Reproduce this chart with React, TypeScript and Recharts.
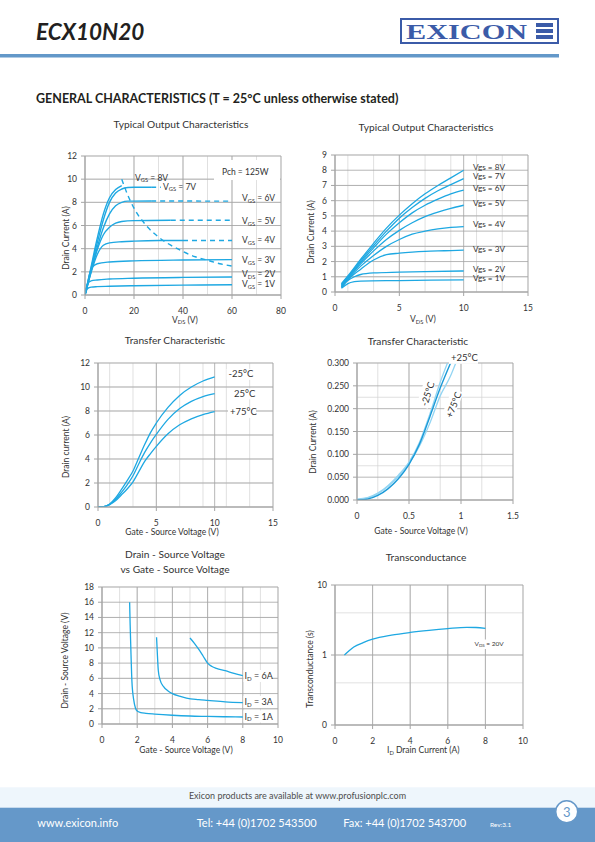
import React from "react";
import { LineChart, Line, XAxis, YAxis, CartesianGrid } from "recharts";

type Pt = [number, number];

const FONT = "Lato, 'Open Sans', sans-serif";
const BLUE = "#1ea8e2";
const LIGHT = "#93d5f3";
const TXT = "#333333";

// ---------- Chart 1 : Typical output characteristics (0-80 V) ----------
const c1XTicks = [0, 20, 40, 60, 80];
const c1YTicks = [0, 2, 4, 6, 8, 10, 12];
const c1XMinor = [0, 2.5, 5, 7.5, 10, 12.5, 15, 17.5, 20, 22.5, 25, 27.5, 30, 32.5, 35, 37.5, 40, 42.5, 45, 47.5, 50, 52.5, 55, 57.5, 60, 62.5, 65, 67.5, 70, 72.5, 75, 77.5, 80];
const c1YMinor = [0, 0.5, 1, 1.5, 2, 2.5, 3, 3.5, 4, 4.5, 5, 5.5, 6, 6.5, 7, 7.5, 8, 8.5, 9, 9.5, 10, 10.5, 11, 11.5, 12];
const out8: Pt[] = [[0, 0], [1, 0.95], [2.5, 2.45], [5, 4.9], [7.5, 7.0], [10, 8.4], [12.5, 9.1], [15, 9.45]];
const out7: Pt[] = [[0, 0], [1, 0.9], [2.5, 2.3], [5, 4.5], [7.5, 6.5], [10, 8.0], [12.5, 8.8], [15, 9.15], [17.5, 9.28], [20, 9.3], [27, 9.3]];
const out7d: Pt[] = [[27, 9.3], [31, 9.3]];
const out6: Pt[] = [[0, 0], [1, 0.85], [2.5, 2.1], [5, 4.1], [7.5, 5.8], [10, 7.0], [12.5, 7.7], [15, 8.0], [17.5, 8.1], [27, 8.12]];
const out6d: Pt[] = [[27, 8.12], [60, 8.1]];
const out5: Pt[] = [[0, 0], [1, 0.82], [2.5, 2.05], [5, 3.9], [7.5, 5.2], [10, 5.85], [12.5, 6.2], [15, 6.35], [20, 6.42], [35, 6.45]];
const out5d: Pt[] = [[35, 6.45], [60, 6.45]];
const out4: Pt[] = [[0, 0], [1, 0.8], [2.5, 1.95], [5, 3.5], [7.5, 4.3], [10, 4.5], [15, 4.6], [20, 4.65], [30, 4.7], [40, 4.7]];
const out4d: Pt[] = [[40, 4.7], [60, 4.7]];
const out3: Pt[] = [[0, 0], [1, 1.0], [2, 1.9], [3, 2.4], [5, 2.7], [10, 2.85], [20, 2.95], [40, 3.02], [60, 3.05]];
const out2: Pt[] = [[0, 0], [1, 0.95], [2.5, 1.22], [5, 1.3], [10, 1.38], [20, 1.45], [40, 1.52], [60, 1.55]];
const out1: Pt[] = [[0, 0], [1, 0.55], [2.5, 0.68], [5, 0.72], [10, 0.75], [20, 0.8], [40, 0.85], [60, 0.88]];
const pchLimit: Pt[] = [[15, 10], [17.5, 8.6], [20, 7.5], [25, 6], [30, 5], [35, 4.3], [40, 3.75], [45, 3.3], [50, 3], [55, 2.7], [60, 2.5]];

// ---------- Chart 2 : Typical output characteristics (0-10 V) ----------
const c2XTicks = [0, 5, 10, 15];
const c2YTicks = [0, 1, 2, 3, 4, 5, 6, 7, 8, 9];
const c2XMinor = [0, 1, 2, 3, 4, 5, 6, 7, 8, 9, 10, 11, 12, 13, 14, 15];
const vgs8: Pt[] = [[0.5, 0.55], [1, 1.05], [2, 2.15], [3, 3.2], [4, 4.2], [5, 5.05], [6, 5.8], [7, 6.45], [8, 7.0], [9, 7.5], [10, 8.0]];
const vgs7: Pt[] = [[0.5, 0.5], [1, 1.0], [2, 2.05], [3, 3.05], [4, 4.0], [5, 4.85], [6, 5.55], [7, 6.15], [8, 6.65], [9, 7.05], [10, 7.45]];
const vgs6: Pt[] = [[0.5, 0.45], [1, 0.95], [2, 1.95], [3, 2.9], [4, 3.8], [5, 4.55], [6, 5.2], [7, 5.7], [8, 6.1], [9, 6.45], [10, 6.7]];
const vgs5: Pt[] = [[0.5, 0.4], [1, 0.9], [2, 1.85], [3, 2.7], [4, 3.45], [5, 4.05], [6, 4.55], [7, 4.95], [8, 5.25], [9, 5.5], [10, 5.7]];
const vgs4: Pt[] = [[0.5, 0.35], [1, 0.85], [2, 1.7], [3, 2.4], [4, 3.0], [5, 3.45], [6, 3.8], [7, 4.0], [8, 4.15], [9, 4.25], [10, 4.3]];
const vgs3: Pt[] = [[0.5, 0.3], [1, 0.8], [2, 1.5], [3, 2.1], [4, 2.45], [5, 2.55], [6, 2.62], [7, 2.67], [8, 2.7], [9, 2.72], [10, 2.75]];
const vgs2: Pt[] = [[0.5, 0.3], [1, 0.75], [1.5, 1.0], [2, 1.15], [3, 1.25], [5, 1.3], [7, 1.34], [10, 1.38]];
const vgs1: Pt[] = [[0.5, 0.25], [1, 0.55], [1.5, 0.68], [2, 0.72], [5, 0.75], [10, 0.8]];

// ---------- Chart 3 : Transfer characteristic ----------
const c3XTicks = [0, 5, 10, 15];
const c3YTicks = [0, 2, 4, 6, 8, 10, 12];
const c3XMinor = [0, 1, 2, 3, 4, 5, 6, 7, 8, 9, 10, 11, 12, 13, 14, 15];
const trM25: Pt[] = [[0, 0], [0.5, 0.03], [1, 0.25], [1.5, 0.75], [2, 1.45], [2.5, 2.2], [3, 3.0], [3.5, 4.1], [4, 5.2], [4.5, 6.2], [5, 7.0], [6, 8.3], [7, 9.3], [8, 10.0], [9, 10.5], [10, 10.85]];
const trP25: Pt[] = [[0, 0], [0.5, 0.03], [1, 0.22], [1.5, 0.62], [2, 1.2], [2.5, 1.85], [3, 2.6], [3.5, 3.6], [4, 4.55], [4.5, 5.35], [5, 6.05], [6, 7.3], [7, 8.2], [8, 8.8], [9, 9.2], [10, 9.45]];
const trP75: Pt[] = [[0, 0], [0.5, 0.03], [1, 0.2], [1.5, 0.52], [2, 1.0], [2.5, 1.5], [3, 2.1], [3.5, 2.95], [4, 3.8], [4.5, 4.45], [5, 5.05], [6, 6.1], [7, 6.85], [8, 7.35], [9, 7.7], [10, 7.95]];

// ---------- Chart 4 : Transfer characteristic (low current) ----------
const c4XTicks = [0, 0.5, 1, 1.5];
const c4YTicks = [0, 0.05, 0.1, 0.15, 0.2, 0.25, 0.3];
const c4XMinor = [0, 0.1, 0.2, 0.3, 0.4, 0.5, 0.6, 0.7, 0.8, 0.9, 1, 1.1, 1.2, 1.3, 1.4, 1.5];
const c4YMinor = [0, 0.025, 0.05, 0.075, 0.1, 0.125, 0.15, 0.175, 0.2, 0.225, 0.25, 0.275, 0.3];
const lowP25: Pt[] = [[0, 0], [0.1, 0.002], [0.2, 0.01], [0.3, 0.025], [0.4, 0.047], [0.5, 0.078], [0.6, 0.122], [0.7, 0.182], [0.8, 0.245], [0.9, 0.3]];
const lowM25: Pt[] = [[0, 0.002], [0.1, 0.005], [0.2, 0.015], [0.3, 0.032], [0.4, 0.055], [0.5, 0.083], [0.6, 0.126], [0.7, 0.188], [0.8, 0.258], [0.87, 0.3]];
const lowP75: Pt[] = [[0, 0.001], [0.1, 0.004], [0.2, 0.014], [0.3, 0.03], [0.4, 0.052], [0.5, 0.08], [0.6, 0.118], [0.7, 0.168], [0.8, 0.228], [0.9, 0.272], [0.95, 0.3]];

// ---------- Chart 5 : VDS vs VGS ----------
const c5XTicks = [0, 2, 4, 6, 8, 10];
const c5YTicks = [0, 2, 4, 6, 8, 10, 12, 14, 16, 18];
const c5XMinor = [0, 0.5, 1, 1.5, 2, 2.5, 3, 3.5, 4, 4.5, 5, 5.5, 6, 6.5, 7, 7.5, 8, 8.5, 9, 9.5, 10];
const c5YMinor = [0, 1, 2, 3, 4, 5, 6, 7, 8, 9, 10, 11, 12, 13, 14, 15, 16, 17, 18];
const id1A: Pt[] = [[1.57, 16], [1.6, 13], [1.65, 9], [1.7, 5.6], [1.8, 3.2], [1.9, 2.1], [2.0, 1.7], [2.2, 1.5], [2.5, 1.4], [3, 1.3], [4, 1.15], [5, 1.05], [6, 1.0], [7, 0.95], [8, 0.92]];
const id3A: Pt[] = [[3.1, 11.4], [3.15, 9], [3.2, 7], [3.3, 5.8], [3.5, 4.9], [3.75, 4.35], [4, 4.0], [4.4, 3.65], [4.8, 3.4], [5.5, 3.2], [6, 3.1], [7, 2.9], [8, 2.8]];
const id6A: Pt[] = [[5, 11.3], [5.25, 10.6], [5.5, 9.8], [5.75, 8.9], [6, 8.0], [6.25, 7.55], [6.5, 7.3], [7, 7.0], [7.5, 6.65], [8, 6.35]];

// ---------- Chart 6 : Transconductance ----------
const c6XTicks = [0, 2, 4, 6, 8, 10];
const c6YTicks = [0.1, 1, 10];
const c6YMinor = [0.1, 0.2, 0.3, 0.4, 0.5, 0.6, 0.7, 0.8, 0.9, 1, 2, 3, 4, 5, 6, 7, 8, 9, 10];
const gfs: Pt[] = [[0.5, 1.0], [0.75, 1.15], [1, 1.3], [1.5, 1.5], [2, 1.68], [3, 1.92], [4, 2.1], [5, 2.25], [6, 2.38], [7, 2.48], [7.5, 2.47], [8, 2.4]];

const toData = (p: Pt[]) => p.map(([x, y]) => ({ x, y }));

interface Series {
  pts: Pt[];
  color?: string;
  width?: number;
  dash?: string;
  linear?: boolean;
}

interface Spec {
  box: [number, number, number, number];
  xDomain: [number, number];
  xTicks: number[];
  xMinor: number[];
  yDomain: [number, number];
  yTicks: number[];
  yMinor: number[];
  yLog?: boolean;
  yFmt?: (v: number) => string;
  series: Series[];
}

const YW = 45;
const MT = 10;
const MR = 20;
const XH = 30;

function Plot({ spec }: { spec: Spec }) {
  const [x0, y0, x1, y1] = spec.box;
  const w = x1 - x0 + YW + MR;
  const h = y1 - y0 + MT + XH;
  const tick = { fontSize: 8.5, fill: TXT, fontFamily: FONT };
  const yScale = spec.yLog ? "log" : "auto";
  return (
    <div style={{ position: "absolute", left: x0 - YW, top: y0 - MT, width: w, height: h }}>
      <LineChart width={w} height={h} margin={{ top: MT, right: MR, bottom: 0, left: 0 }}>
        <XAxis xAxisId="m" type="number" dataKey="x" domain={spec.xDomain} ticks={spec.xMinor} hide allowDataOverflow />
        <YAxis yAxisId="m" type="number" domain={spec.yDomain} ticks={spec.yMinor} hide allowDataOverflow scale={yScale} />
        <CartesianGrid xAxisId="m" yAxisId="m" stroke="#d3d3d3" strokeWidth={0.7} />
        <CartesianGrid stroke="#a4a4a4" strokeWidth={0.8} />
        <XAxis
          type="number"
          dataKey="x"
          domain={spec.xDomain}
          ticks={spec.xTicks}
          interval={0}
          allowDataOverflow
          height={XH}
          tick={tick}
          tickSize={4}
          tickMargin={9}
          stroke="#a4a4a4"
        />
        <YAxis
          type="number"
          domain={spec.yDomain}
          ticks={spec.yTicks}
          interval={0}
          allowDataOverflow
          width={YW}
          tick={tick}
          tickSize={4}
          tickMargin={4}
          stroke="#a4a4a4"
          scale={yScale}
          tickFormatter={spec.yFmt}
        />
        {spec.series.map((s, i) => (
          <Line
            key={i}
            data={toData(s.pts)}
            dataKey="y"
            type={s.linear ? "linear" : "monotone"}
            stroke={s.color ?? BLUE}
            strokeWidth={s.width ?? 1.4}
            strokeDasharray={s.dash}
            dot={false}
            activeDot={false}
            isAnimationActive={false}
          />
        ))}
      </LineChart>
    </div>
  );
}

const DASH = "5 4";

const specs: Spec[] = [
  {
    box: [85, 156, 281, 295],
    xDomain: [0, 80], xTicks: c1XTicks, xMinor: c1XMinor,
    yDomain: [0, 12], yTicks: c1YTicks, yMinor: c1YMinor,
    series: [
      { pts: out1 }, { pts: out2 }, { pts: out3 },
      { pts: out4 }, { pts: out4d, dash: DASH, linear: true },
      { pts: out5 }, { pts: out5d, dash: DASH, linear: true },
      { pts: out6 }, { pts: out6d, dash: DASH, linear: true },
      { pts: out7 }, { pts: out7d, dash: DASH, linear: true },
      { pts: out8 },
      { pts: pchLimit, dash: DASH },
    ],
  },
  {
    box: [335, 155, 528, 292],
    xDomain: [0, 15], xTicks: c2XTicks, xMinor: c2XMinor,
    yDomain: [0, 9], yTicks: c2YTicks, yMinor: c2YTicks,
    series: [vgs1, vgs2, vgs3, vgs4, vgs5, vgs6, vgs7, vgs8].map((p) => ({ pts: p, width: 1.3 })),
  },
  {
    box: [98, 363, 273, 507],
    xDomain: [0, 15], xTicks: c3XTicks, xMinor: c3XMinor,
    yDomain: [0, 12], yTicks: c3YTicks, yMinor: c3YTicks,
    series: [trM25, trP25, trP75].map((p) => ({ pts: p, width: 1.3 })),
  },
  {
    box: [357, 363, 513, 500],
    xDomain: [0, 1.5], xTicks: c4XTicks, xMinor: c4XMinor,
    yDomain: [0, 0.3], yTicks: c4YTicks, yMinor: c4YMinor,
    yFmt: (v: number) => v.toFixed(3),
    series: [
      { pts: lowM25, color: LIGHT, width: 1.3 },
      { pts: lowP75, color: LIGHT, width: 1.3 },
      { pts: lowP25, color: "#1a9ad8", width: 1.4 },
    ],
  },
  {
    box: [102, 587, 278, 724],
    xDomain: [0, 10], xTicks: c5XTicks, xMinor: c5XMinor,
    yDomain: [0, 18], yTicks: c5YTicks, yMinor: c5YMinor,
    series: [id1A, id3A, id6A].map((p) => ({ pts: p, width: 1.3 })),
  },
  {
    box: [335, 585, 523, 725],
    xDomain: [0, 10], xTicks: c6XTicks, xMinor: c6XTicks,
    yDomain: [0.1, 10], yTicks: c6YTicks, yMinor: c6YMinor, yLog: true,
    yFmt: (v: number) => (v < 1 ? "0" : String(v)),
    series: [{ pts: gfs, width: 1.3 }],
  },
];

function Sub({ x, y, main, sub, rest, size = 8.5, bg }: { x: number; y: number; main: string; sub: string; rest: string; size?: number; bg?: number }) {
  return (
    <g>
      {bg ? <rect x={x - 1} y={y - size} width={bg} height={size + 3} fill="#fff" /> : null}
      <text x={x} y={y} fontSize={size} fill={TXT} fontFamily={FONT}>
        {main}
        <tspan fontSize={size * 0.68} dy={size * 0.22}>{sub}</tspan>
        <tspan dy={-size * 0.22}>{rest}</tspan>
      </text>
    </g>
  );
}

function T({ x, y, s, size = 9, anchor = "middle", rot, bg }: { x: number; y: number; s: string; size?: number; anchor?: "start" | "middle" | "end"; rot?: number; bg?: number }) {
  if (rot !== undefined) {
    return (
      <g transform={`translate(${x},${y}) rotate(${rot})`}>
        {bg ? <rect x={-bg / 2} y={-size * 0.8} width={bg} height={size * 1.25} fill="#fff" /> : null}
        <text x={0} y={size * 0.32} textAnchor={anchor} fontSize={size} fill={TXT} fontFamily={FONT}>{s}</text>
      </g>
    );
  }
  return (
    <g>
      {bg ? <rect x={x - 2} y={y - size * 0.85} width={bg} height={size * 1.15} fill="#fff" /> : null}
      <text x={x} y={y} textAnchor={anchor} fontSize={size} fill={TXT} fontFamily={FONT}>{s}</text>
    </g>
  );
}

function Overlay() {
  const title = 10.2;
  const ax = 8.5;
  return (
    <svg width={595} height={842} style={{ position: "absolute", left: 0, top: 0, pointerEvents: "none" }}>
      {/* header */}
      <text x={36} y={40} fontSize={22.5} fontWeight={700} fontStyle="italic" fill="#231f20" fontFamily={FONT}>ECX10N20</text>
      <rect x={401} y={19} width={157} height={24} fill="#fff" stroke="#3b5ba8" strokeWidth={2} />
      <text x={406} y={39} fontSize={22} fontWeight={700} fill="#3b5ba8" fontFamily="'Liberation Serif', 'DejaVu Serif', serif" textLength={121} lengthAdjust="spacingAndGlyphs">EXICON</text>
      <rect x={536} y={23} width={17} height={4} fill="#3b5ba8" />
      <rect x={536} y={29} width={17} height={4} fill="#3b5ba8" />
      <rect x={536} y={35} width={17} height={4} fill="#3b5ba8" />
      <rect x={0} y={54} width={559} height={3.5} fill="#6398c9" />
      <text x={36} y={103} fontSize={12.5} fontWeight={700} fill="#231f20" fontFamily={FONT}>GENERAL CHARACTERISTICS (T = 25°C unless otherwise stated)</text>

      {/* chart titles */}
      <T x={181} y={128} s="Typical Output Characteristics" size={title} />
      <T x={426} y={130.5} s="Typical Output Characteristics" size={title} />
      <T x={175} y={343.5} s="Transfer Characteristic" size={title} />
      <T x={418} y={345} s="Transfer Characteristic" size={title} />
      <T x={175} y={557.5} s="Drain - Source Voltage" size={title} />
      <T x={175} y={572.5} s="vs Gate - Source Voltage" size={title} />
      <T x={426} y={560.5} s="Transconductance" size={title} />

      {/* chart 1 annotations */}
      <rect x={214} y={160} width={66} height={20} fill="#fff" />
      <T x={222} y={175} s="Pch = 125W" size={ax} anchor="start" />
      <Sub x={135} y={180.5} main="V" sub="GS" rest=" = 8V" />
      <Sub x={163} y={189.5} main="V" sub="GS" rest=" = 7V" />
      <Sub x={242} y={201} main="V" sub="GS" rest=" = 6V" />
      <Sub x={242} y={224.3} main="V" sub="GS" rest=" = 5V" />
      <Sub x={242} y={243.3} main="V" sub="GS" rest=" = 4V" />
      <Sub x={242} y={262.7} main="V" sub="GS" rest=" = 3V" />
      <Sub x={242} y={276.7} main="V" sub="DS" rest=" = 2V" />
      <Sub x={242} y={287.3} main="V" sub="GS" rest=" = 1V" />
      <T x={66} y={238} s="Drain Current (A)" size={ax} rot={-90} />
      <Sub x={172} y={322.5} main="V" sub="DS" rest="  (V)" />

      {/* chart 2 annotations */}
      <T x={473} y={170.3} s="Vgs = 8V" size={8.2} anchor="start" />
      <T x={473} y={179.3} s="Vgs = 7V" size={8.2} anchor="start" />
      <T x={473} y={191} s="Vgs = 6V" size={8.2} anchor="start" />
      <T x={473} y={206} s="Vgs = 5V" size={8.2} anchor="start" />
      <T x={473} y={227.3} s="Vgs = 4V" size={8.2} anchor="start" />
      <T x={473} y={251.7} s="Vgs = 3V" size={8.2} anchor="start" />
      <T x={473} y={272} s="Vgs = 2V" size={8.2} anchor="start" />
      <T x={473} y={281.2} s="Vgs = 1V" size={8.2} anchor="start" />
      <T x={311} y={232} s="Drain Current (A)" size={ax} rot={-90} />
      <Sub x={410} y={322.3} main="V" sub="DS" rest=" (V)" />

      {/* chart 3 annotations */}
      <T x={228.5} y={377} s="-25°C" size={9.5} anchor="start" bg={28} />
      <T x={234} y={396.5} s="25°C" size={9.5} anchor="start" bg={24} />
      <T x={230} y={415} s="+75°C" size={9.5} anchor="start" bg={28} />
      <T x={66} y={447} s="Drain current (A)" size={ax} rot={-90} />
      <T x={172} y={535} s="Gate - Source Voltage (V)" size={ax} />

      {/* chart 4 annotations */}
      <T x={451} y={361} s="+25°C" size={9.5} anchor="start" bg={29} />
      <T x={428} y={394} s="-25°C" size={9.5} rot={-72} bg={28} />
      <T x={454} y={405} s="+75°C" size={9.5} rot={-68} bg={30} />
      <T x={313.5} y={442} s="Drain Current  (A)" size={ax} rot={-90} />
      <T x={421} y={534.3} s="Gate - Source Voltage  (V)" size={ax} />

      {/* chart 5 annotations */}
      <Sub x={244.5} y={679} main="I" sub="D" rest=" = 6A" size={9} bg={28} />
      <Sub x={244.5} y={705} main="I" sub="D" rest=" = 3A" size={9} bg={28} />
      <Sub x={244.5} y={719.5} main="I" sub="D" rest=" = 1A" size={9} bg={28} />
      <T x={65.5} y={660.5} s="Drain - Source Voltage  (V)" size={ax} rot={-90} />
      <T x={186} y={753.3} s="Gate - Source Voltage  (V)" size={ax} />

      {/* chart 6 annotations */}
      <Sub x={474.5} y={646} main="V" sub="DS" rest=" = 20V" size={6.5} bg={31} />
      <T x={310} y={669} s="Transconductance  (s)" size={ax} rot={-90} />
      <Sub x={387} y={753.3} main="I" sub="D" rest="  Drain Current (A)" size={ax} />

      {/* footer */}
      <rect x={0} y={787.3} width={595} height={20.5} fill="#eef6fc" />
      <rect x={0} y={807.7} width={595} height={34.3} fill="#6598c9" />
      <text x={297.5} y={799.3} textAnchor="middle" fontSize={9} fill="#4d4d4d" fontFamily={FONT}>Exicon products are available at www.profusionplc.com</text>
      <text x={37.3} y={826.7} fontSize={11} fill="#ffffff" fontFamily={FONT}>www.exicon.info</text>
      <text x={196.7} y={826.7} fontSize={11} fill="#ffffff" fontFamily={FONT}>Tel: +44 (0)1702 543500</text>
      <text x={343.3} y={826.7} fontSize={11} fill="#ffffff" fontFamily={FONT}>Fax: +44 (0)1702 543700</text>
      <text x={490} y={826.7} fontSize={6.5} fill="#ffffff" fontFamily={FONT}>Rev:3.1</text>
      <circle cx={566.7} cy={811.7} r={11} fill="#ffffff" stroke="#6598c9" strokeWidth={1.5} />
      <text x={566.7} y={816.5} textAnchor="middle" fontSize={13} fill="#6598c9" fontFamily={FONT}>3</text>
    </svg>
  );
}

export default function App() {
  return (
    <div style={{ position: "absolute", left: 0, top: 0, width: 595, height: 842, background: "#fff", overflow: "hidden" }}>
      {specs.map((s, i) => (
        <Plot key={i} spec={s} />
      ))}
      <Overlay />
    </div>
  );
}
